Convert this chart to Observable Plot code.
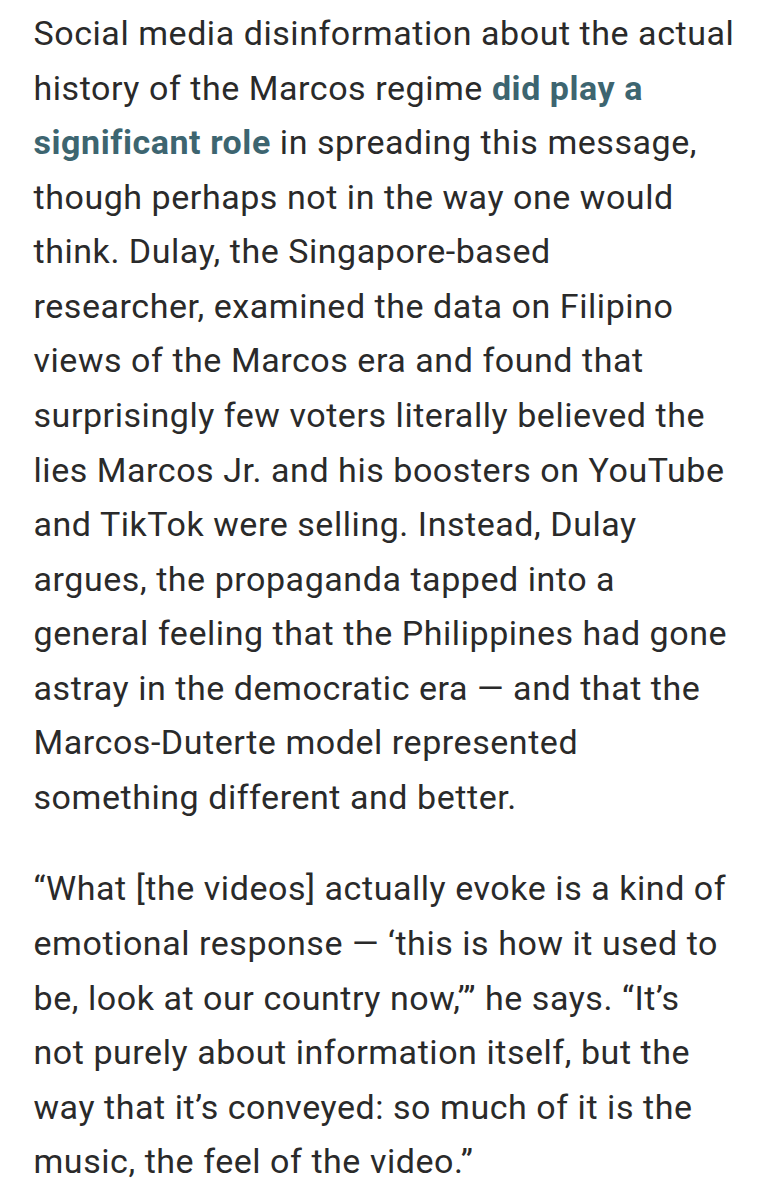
<!DOCTYPE html>
<html><head><meta charset="utf-8">
<script src="https://cdn.jsdelivr.net/npm/d3@7"></script>
<script src="https://cdn.jsdelivr.net/npm/@observablehq/plot@0.6"></script>
<style>body{margin:0;background:#fff}</style>
</head><body><div id="chart"></div>
<script>
// text lines, **...** marks the bold link runs
const para1 = [
  "Social media disinformation about the actual",
  "history of the Marcos regime **did play a**",
  "**significant role** in spreading this message,",
  "though perhaps not in the way one would",
  "think. Dulay, the Singapore-based",
  "researcher, examined the data on Filipino",
  "views of the Marcos era and found that",
  "surprisingly few voters literally believed the",
  "lies Marcos Jr. and his boosters on YouTube",
  "and TikTok were selling. Instead, Dulay",
  "argues, the propaganda tapped into a",
  "general feeling that the Philippines had gone",
  "astray in the democratic era \u2014 and that the",
  "Marcos-Duterte model represented",
  "something different and better."
]
const para2 = [
  "\u201cWhat [the videos] actually evoke is a kind of",
  "emotional response \u2014 \u2018this is how it used to",
  "be, look at our country now,\u2019\u201d he says. \u201cIt\u2019s",
  "not purely about information itself, but the",
  "way that it\u2019s conveyed: so much of it is the",
  "music, the feel of the video.\u201d"
]
const paraGap = 0.68

const rows = []
;[para1, para2].forEach((p, pi) => {
  p.forEach((t, i) => rows.push({ text: t, line: rows.length + pi * paraGap }))
})

let chart = Plot.plot({
  width: 774,
  height: 1200,
  margin: 0,
  x: { domain: [0, 1], range: [33, 774], axis: null },
  y: { domain: [-0.62, 21.38], range: [0, 1200], axis: null },
  marks: [
    Plot.text(rows, {
      x: () => 0, y: 'line', text: 'text',
      textAnchor: 'start', fontSize: 34, fill: '#2a2a2a',
      fontFamily: 'Roboto', lineAnchor: 'middle'
    })
  ]
})
d3.select('#chart').append(() => chart)

d3.select(chart).selectAll('text').style('letter-spacing', '0.55px')

// turn **bold** runs into tspans
d3.select(chart).selectAll('text').each(function () {
  const el = d3.select(this)
  const t = el.text()
  if (!t.includes('**')) return
  el.text(null)
  t.split('**').forEach((part, i) => {
    if (!part) return
    const s = el.append('tspan').text(part)
    if (i % 2 === 1) s.attr('font-weight', 'bold').attr('fill', '#3d6570')
  })
})
</script>
</body></html>
